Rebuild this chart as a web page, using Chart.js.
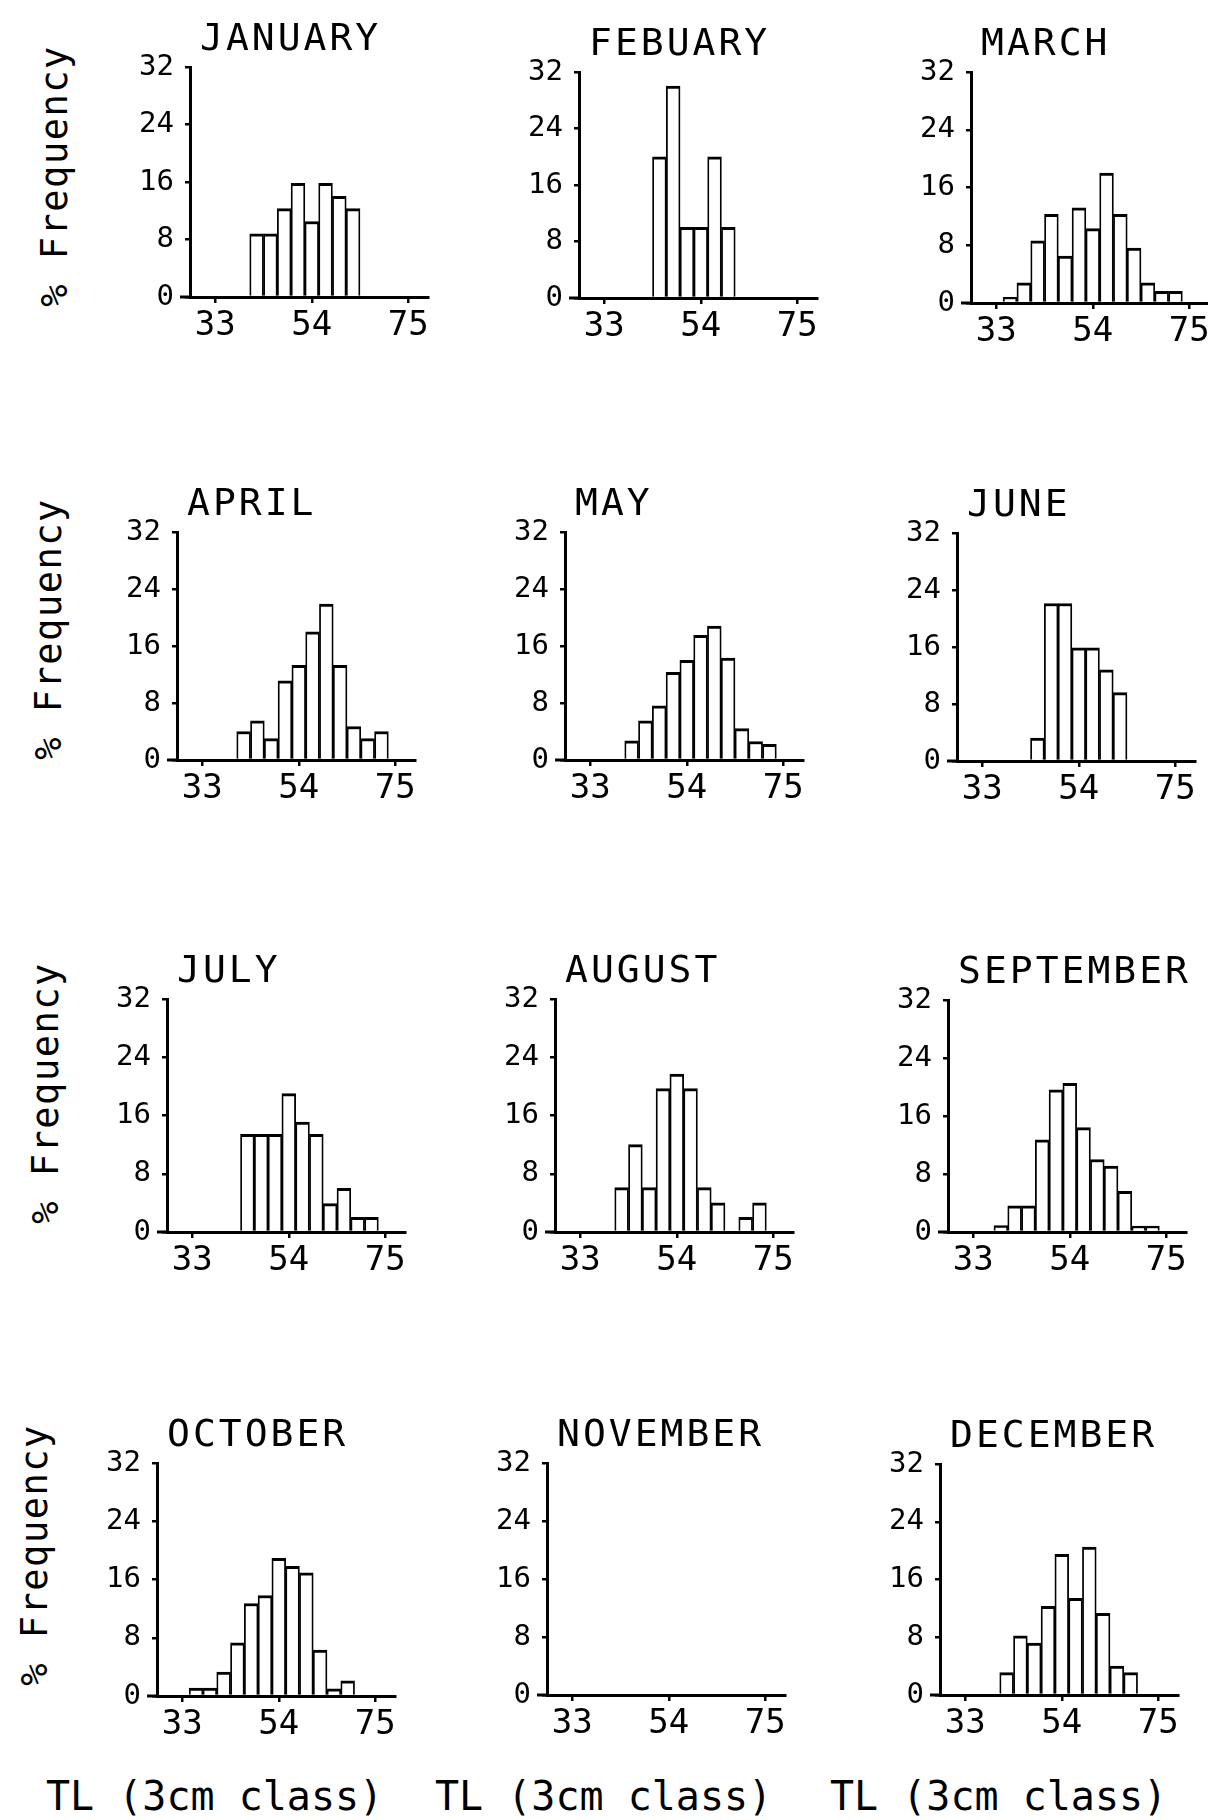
<!DOCTYPE html>
<html>
<head>
<meta charset="utf-8">
<title>TL frequency by month</title>
<script src="https://cdn.jsdelivr.net/npm/chart.js@4.4.1/dist/chart.umd.min.js"></script>
<style>
    body { margin: 0; background: #fff; }
    #page {
        position: relative;
        width: 1208px;
        height: 1820px;
        overflow: hidden;
        font-family: "DejaVu Sans Mono", monospace;
        color: #000;
    }
    .panel { position: absolute; }
    .ylab {
        position: absolute;
        font-size: 37px;
        line-height: 40px;
        letter-spacing: 1.5px;
        white-space: nowrap;
        transform: translate(-50%, -50%) rotate(-90deg);
    }
    .xlab {
        position: absolute;
        font-size: 40px;
        line-height: 40px;
        white-space: nowrap;
    }
</style>
</head>
<body>
<div id="page"></div>

<script>
// Length classes (3 cm class mid-points) and % frequency per month
var classes  = [36, 39, 42, 45, 48, 51, 54, 57, 60, 63, 66, 69, 72];
var xTicks   = [33, 54, 75];
var yTicks   = [0, 8, 16, 24, 32];

var months   = ['JANUARY', 'FEBUARY', 'MARCH', 'APRIL', 'MAY', 'JUNE',
                'JULY', 'AUGUST', 'SEPTEMBER', 'OCTOBER', 'NOVEMBER', 'DECEMBER'];

var january   = [0, 0, 8.8, 8.8, 12.3, 15.8, 10.5, 15.8, 14, 12.3, 0, 0, 0];
var febuary   = [0, 0, 0, 20, 30, 10, 10, 20, 10, 0, 0, 0, 0];
var march     = [0.8, 2.8, 8.6, 12.3, 6.5, 13.2, 10.3, 18, 12.3, 7.6, 2.8, 1.6, 1.6];
var april     = [0, 0, 4, 5.5, 3, 11.1, 13.3, 18, 21.9, 13.3, 4.7, 3, 4];
var may       = [0, 0, 2.7, 5.5, 7.6, 12.3, 14, 17.5, 18.8, 14.3, 4.4, 2.6, 2.2];
var june      = [0, 0, 0, 3.2, 22.1, 22.1, 15.9, 15.9, 12.8, 9.6, 0, 0, 0];
var july      = [0, 0, 0, 13.4, 13.4, 13.4, 19, 15.1, 13.4, 3.9, 6, 2, 2];
var august    = [0, 0, 6.1, 12, 6.1, 19.7, 21.7, 19.7, 6.1, 4, 0, 2, 4];
var september = [0, 0.9, 3.6, 3.6, 12.7, 19.6, 20.5, 14.4, 10, 9.1, 5.6, 0.8, 0.8];
var october   = [1.1, 1.1, 3.3, 7.3, 12.7, 13.8, 18.9, 17.8, 16.9, 6.3, 1, 2.1, 0];
var november  = [];
var december  = [0, 0, 3.1, 8.2, 7.2, 12.3, 19.5, 13.4, 20.5, 11.3, 4, 3.1, 0];

var series = [january, febuary, march, april, may, june,
              july, august, september, october, november, december];

// Panel placement on the page: [y-axis x, top of axis (32), baseline (0)]
var layout = [
    [190, 67, 297], [579, 72, 298], [971, 72, 303],
    [177, 532, 760], [565, 532, 760], [957, 533, 761],
    [167, 999, 1232], [555, 999, 1232], [948, 1000, 1232],
    [157, 1463, 1696], [547, 1463, 1695], [940, 1464, 1695]
];

var rowLabels = [[55, 176], [49, 629], [46, 1093], [35, 1555]];
var bottomLabels = [46, 435, 830];

var AXIS_W = 70, AXIS_H = 52, PAD_TOP = 62, PLOT_W = 238, PAD_RIGHT = 6;

Chart.defaults.font.family = '"DejaVu Sans Mono", monospace';
Chart.defaults.color = '#000';

// Title drawn left-aligned just above the plot area
var panelTitle = {
    id: 'panelTitle',
    afterDraw: function(chart, args, opts) {
        var ctx = chart.ctx;
        var area = chart.chartArea;
        ctx.save();
        ctx.font = '38px "DejaVu Sans Mono"';
        ctx.letterSpacing = '3px';
        ctx.fillStyle = '#000';
        ctx.textBaseline = 'alphabetic';
        ctx.fillText(opts.text, area.left + 10, area.top - 17);
        ctx.restore();
    }
};

// The baseline runs a little past the y axis on the left, as on the plotter
var baselineStub = {
    id: 'baselineStub',
    afterDraw: function(chart) {
        var ctx = chart.ctx;
        var area = chart.chartArea;
        ctx.save();
        ctx.strokeStyle = '#000';
        ctx.lineWidth = 3;
        ctx.beginPath();
        ctx.moveTo(area.left - 10, area.bottom);
        ctx.lineTo(area.left, area.bottom);
        ctx.stroke();
        ctx.restore();
    }
};

function tickGrid(len) {
    return {
        display: true,
        drawOnChartArea: false,
        drawTicks: true,
        tickLength: len,
        color: '#000',
        lineWidth: 2.5,
        offset: false
    };
}

function makePanel(i) {
    var page = document.getElementById('page');
    var pos = layout[i];
    var plotH = pos[2] - pos[1];

    var div = document.createElement('div');
    div.className = 'panel';
    div.style.left = (pos[0] - AXIS_W) + 'px';
    div.style.top = (pos[1] - PAD_TOP) + 'px';

    var canvas = document.createElement('canvas');
    canvas.width = AXIS_W + PLOT_W + PAD_RIGHT;
    canvas.height = PAD_TOP + plotH + AXIS_H;
    div.appendChild(canvas);
    page.appendChild(div);

    var values = series[i];
    var points = values.map(function(v, k) {
        return { x: classes[k], y: v };
    });

    new Chart(canvas, {
        type: 'bar',
        data: {
            datasets: [{
                data: points,
                backgroundColor: '#fff',
                borderColor: '#000',
                borderWidth: { top: 3, left: 1.8, right: 1.8, bottom: 0 },
                barPercentage: 1,
                categoryPercentage: 1
            }]
        },
        options: {
            responsive: false,
            animation: false,
            devicePixelRatio: 1,
            layout: { padding: { top: PAD_TOP, right: PAD_RIGHT, left: 0, bottom: 0 } },
            plugins: {
                legend: { display: false },
                tooltip: { enabled: false },
                panelTitle: { text: months[i] }
            },
            scales: {
                x: {
                    type: 'linear',
                    min: 27.5,
                    max: 79.3,
                    offset: false,
                    z: 1,
                    afterBuildTicks: function(s) {
                        s.ticks = xTicks.map(function(v) { return { value: v }; });
                    },
                    afterFit: function(s) { s.height = AXIS_H; },
                    border: { display: true, color: '#000', width: 3 },
                    grid: tickGrid(6),
                    ticks: { font: { size: 34 }, padding: 3, autoSkip: false, maxRotation: 0 }
                },
                y: {
                    type: 'linear',
                    min: 0,
                    max: 32,
                    z: 1,
                    afterBuildTicks: function(s) {
                        s.ticks = yTicks.map(function(v) { return { value: v }; });
                    },
                    afterFit: function(s) { s.width = AXIS_W; },
                    border: { display: true, color: '#000', width: 3 },
                    grid: tickGrid(5),
                    ticks: { font: { size: 29 }, padding: 11, autoSkip: false }
                }
            }
        },
        plugins: [panelTitle, baselineStub]
    });
}

function addLabels() {
    var page = document.getElementById('page');
    rowLabels.forEach(function(p) {
        var el = document.createElement('div');
        el.className = 'ylab';
        el.textContent = '% Frequency';
        el.style.left = p[0] + 'px';
        el.style.top = p[1] + 'px';
        page.appendChild(el);
    });
    bottomLabels.forEach(function(x) {
        var el = document.createElement('div');
        el.className = 'xlab';
        el.textContent = 'TL (3cm class)';
        el.style.left = x + 'px';
        el.style.top = '1776px';
        page.appendChild(el);
    });
}

for (var i = 0; i < months.length; i++) {
    makePanel(i);
}
addLabels();
</script>
</body>
</html>
